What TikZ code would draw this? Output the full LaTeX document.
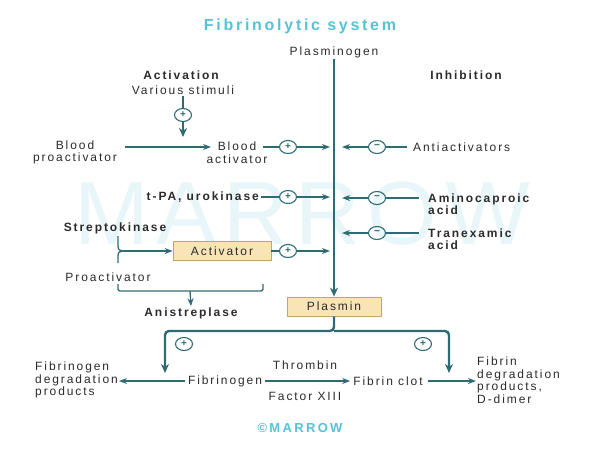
\documentclass[tikz,border=0pt]{standalone}
\usepackage{fontspec}
\setmainfont{Liberation Sans}[LetterSpace=16]
\usetikzlibrary{arrows.meta,shapes.geometric}

\definecolor{arrowteal}{HTML}{2F6B74}
\definecolor{textgray}{HTML}{2B2B2B}
\definecolor{boxfill}{HTML}{F9E4B7}
\definecolor{boxline}{HTML}{C8A46A}
\definecolor{titlecyan}{HTML}{55C2D6}
\definecolor{wmark}{HTML}{E9F6F9}

\tikzset{
	txt/.style={text=textgray, font=\fontsize{12}{12.5}\selectfont, inner sep=1pt},
	drugtxt/.style={txt, font=\fontsize{12}{12.5}\selectfont\bfseries},
	sign/.style={ellipse, draw=arrowteal, line width=1.1pt, minimum width=17pt, minimum height=13pt, inner sep=0pt, font=\fontsize{10}{10}\selectfont\bfseries\addfontfeature{LetterSpace=0}, text=arrowteal},
	flow/.style={draw=arrowteal, line width=1.3pt},
	thinarrow/.style={flow, -{Stealth[length=8pt,width=6pt]}},
	thickarrow/.style={draw=arrowteal, line width=2.4pt, -{Stealth[length=9pt,width=8pt]}},
	enzyme/.style={txt, draw=boxline, fill=boxfill, line width=0.8pt, minimum width=94pt, minimum height=19pt},
}

\begin{document}
\begin{tikzpicture}[x=1pt, y=-1pt]
	
	\def\mainx{334} %x der Hauptlinie
	\def\lx{330}%Pfeilspitzen links
	\def\rx{342}%Pfeilspitzen rechts
	
	\useasboundingbox (0,0) rectangle (600,450);
	
	\node[text=wmark, font=\fontsize{90}{90}\selectfont\addfontfeature{LetterSpace=8}] (wm) at (302,214) {MARROW}; %Wasserzeichen
	
	\node[font=\fontsize{16}{16}\selectfont\bfseries\addfontfeature{LetterSpace=17}, text=titlecyan] (title) at (300,26) {Fibrinolytic system};
	\node[txt] (plg) at (\mainx,52) {Plasminogen};
	\node[enzyme] (plasmin) at (\mainx,306.5) {Plasmin};
	\draw[thickarrow] (plg.south) -- (plasmin.north);
	
	\node[drugtxt] (act) at (181,75) {Activation};
	\node[drugtxt] (inh) at (466,75) {Inhibition};
	
	% Aktivierung links
	\node[txt] (stim) at (183,90) {Various stimuli};
	\node[sign] (s0) at (183,115) {+};
	\node[txt, align=center] (bpro) at (75,152.5) {Blood\\proactivator};
	\node[txt, align=center] (bact) at (237,152.5) {Blood\\activator};
	\coordinate (conv) at (183,137);
	\draw[flow, line width=2.4pt] (stim) -- (s0);
	\draw[thickarrow] (s0) -- (conv);
	
	\coordinate (bpro1) at (125,147);
	\coordinate (bact1) at (211,147);
	\coordinate (bact2) at (263,147);
	\coordinate (L1) at (\lx,147);
	\node[sign] (s1) at (288,147) {+};
	\draw[thinarrow] (bpro1) -- (bact1);
	\draw[flow] (bact2) -- (s1);
	\draw[thinarrow] (s1) -- (L1);
	
	\node[drugtxt, anchor=east] (tpa) at (260,197) {t-PA, urokinase};
	\node[sign] (s2) at (288,197) {+};
	\coordinate (L2) at (\lx,197);
	\draw[flow, shorten <=1pt] (tpa) -- (s2);
	\draw[thinarrow] (s2) -- (L2);
	
	\node[drugtxt] (strep) at (115,228) {Streptokinase};
	\node[txt] (proact) at (108,277) {Proactivator};
	\node[enzyme, minimum width=98pt] (actv) at (222,251) {Activator};
	\coordinate (brace) at (123,251);
	\draw[flow] (118,236) -- (118,246) .. controls (118,250) and (120,251) .. (brace)
	            .. controls (120,251) and (118,252) .. (118,256) -- (118,263); %Klammer
	\draw[thinarrow] (brace) -- (actv.west);
	\node[sign] (s4) at (288,251) {+};
	\coordinate (L4) at (\lx,251);
	\draw[flow] (actv) -- (s4);
	\draw[thinarrow] (s4) -- (L4);
	
	\coordinate (bkt) at (190,291);
	\draw[flow, rounded corners=2pt] (118,284) -- (118,291) -- (263,291) -- (263,284);
	\node[drugtxt] (anis) at (191,313) {Anistreplase};
	\draw[thinarrow] (bkt) -- (anis.north);
	
	% Hemmung rechts
	\node[txt, anchor=west] (anti) at (412,147) {Antiactivators};
	\node[sign] (m1) at (377,147) {−};
	\coordinate (R1) at (\rx,147);
	\draw[flow, shorten <=5pt] (anti) -- (m1);
	\draw[thinarrow] (m1) -- (R1);
	
	\node[drugtxt, anchor=west, align=left] (amino) at (427,204) {Aminocaproic\\acid};
	\node[sign] (m2) at (377,198) {−};
	\coordinate (R2) at (\rx,198);
	\draw[flow, shorten <=8pt] ([yshift=6pt]amino.west) -- (m2);
	\draw[thinarrow] (m2) -- (R2);
	
	\node[drugtxt, anchor=west, align=left] (tran) at (427,239) {Tranexamic\\acid};
	\node[sign] (m3) at (377,233) {−};
	\coordinate (R3) at (\rx,233);
	\draw[flow, shorten <=8pt] ([yshift=6pt]tran.west) -- (m3);
	\draw[thinarrow] (m3) -- (R3);
	
	% Plasmin Wirkung
	\coordinate (split) at (\mainx,331);
	\coordinate (lt) at (165,373);
	\coordinate (rt) at (449,373);
	\draw[thickarrow, rounded corners=4pt] (plasmin.south) -- (split) -| (lt);
	\draw[thickarrow, rounded corners=4pt] (split) -| (rt);
	\node[sign] (pl) at (184,344) {+};
	\node[sign] (pr) at (423,344) {+};
	
	\node[txt] (fgn) at (225,381) {Fibrinogen};
	\node[txt, anchor=west, align=left] (fdp) at (34,380) {Fibrinogen\\degradation\\products};
	\node[txt] (clot) at (388,381) {Fibrin clot};
	\node[txt, anchor=west, align=left] (fbdp) at (476,380) {Fibrin\\degradation\\products,\\D-dimer};
	\node[txt] (thr) at (305,365) {Thrombin};
	\node[txt] (f13) at (305,396) {Factor XIII};
	\draw[thinarrow, shorten <=2pt] (fgn.west) -- (fgn.west -| fdp.east);
	\draw[thinarrow, shorten <=2pt, shorten >=2pt] (fgn) -- (clot);
	\draw[thinarrow, shorten <=4pt] (clot.east) -- (clot.east -| fbdp.west);
	
	\node[font=\fontsize{13}{13}\selectfont\bfseries\addfontfeature{LetterSpace=18}, text=titlecyan] (copy) at (300,428) {©MARROW};
	
\end{tikzpicture}
\end{document}
